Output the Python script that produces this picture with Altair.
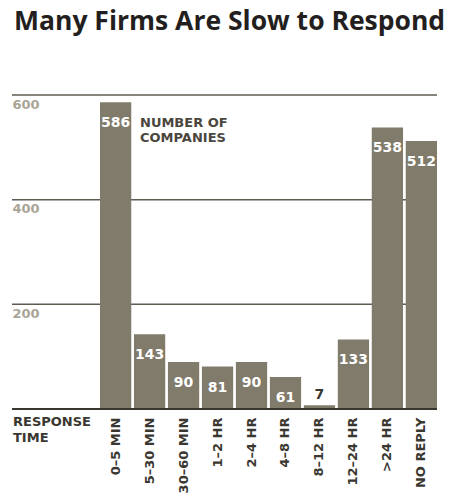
import altair as alt
import pandas as pd

categories = ["0–5 MIN", "5–30 MIN", "30–60 MIN", "1–2 HR", "2–4 HR",
              "4–8 HR", "8–12 HR", "12–24 HR", ">24 HR", "NO REPLY"]
values = [586, 143, 90, 81, 90, 61, 7, 133, 538, 512]
y_ticks = [200, 400, 600]
title_text = ["Many Firms Are Slow to Respond"]
series_label = ["NUMBER OF", "COMPANIES"]
axis_label = ["RESPONSE", "TIME"]

df = pd.DataFrame({"cat": categories, "v": values})
grid_df = pd.DataFrame({"v": y_ticks})

W, H = 425, 314
BAR = "#807b6a"
DARK = "#3a3731"

x = alt.X("cat:N", sort=categories, title=None,
          scale=alt.Scale(range=[88, W], paddingInner=0.08, paddingOuter=0),
          axis=alt.Axis(labelAngle=-90, ticks=False, domain=False, labelPadding=8,
                        labelFont="DejaVu Sans", labelFontWeight="bold",
                        labelFontSize=13, labelColor=DARK, grid=False))
y = alt.Y("v:Q", title=None,
          scale=alt.Scale(domain=[0, 600], nice=False),
          axis=alt.Axis(values=y_ticks, orient="left", domain=False, ticks=False,
                        tickSize=0, labelPadding=0, labelAlign="left",
                        labelBaseline="top", labelOffset=3,
                        labelFont="DejaVu Sans", labelFontSize=13,
                        labelFontWeight="bold", labelColor="#a9a595",
                        grid=False))

grid = alt.Chart(grid_df).mark_rule(color="#5f5b51", strokeWidth=1.5).encode(
    y=alt.Y("v:Q"), x=alt.value(0), x2=alt.value(W))

base = alt.Chart(df)
bars = base.mark_bar(color=BAR).encode(x=x, y=y)

labels_in = base.transform_filter("datum.v >= 20").mark_text(
    baseline="alphabetic", dy=25, color="white", font="DejaVu Sans",
    fontWeight="bold", fontSize=14).encode(x=alt.X("cat:N", sort=categories), y="v:Q", text="v:Q")
labels_out = base.transform_filter("datum.v < 20").mark_text(
    baseline="alphabetic", dy=-6, color=DARK, font="DejaVu Sans",
    fontWeight="bold", fontSize=14).encode(x=alt.X("cat:N", sort=categories), y="v:Q", text="v:Q")

baseline = alt.Chart(pd.DataFrame({"v": [0]})).mark_rule(
    color=DARK, strokeWidth=2).encode(y="v:Q", x=alt.value(0), x2=alt.value(W))

title = alt.Chart(pd.DataFrame({"t": title_text})).mark_text(
    align="left", baseline="alphabetic", font="Open Sans", fontWeight="bold",
    fontSize=26.5, color="#231f20").encode(x=alt.value(2), y=alt.value(-65), text="t:N")

series_txt = alt.Chart(pd.DataFrame({"k": [0]})).mark_text(
    align="left", baseline="alphabetic", font="DejaVu Sans", fontWeight="bold",
    fontSize=13, color="#4a463d", lineHeight=15, text=series_label).encode(
    x=alt.value(128), y=alt.value(32))

axis_txt = alt.Chart(pd.DataFrame({"k": [0]})).mark_text(
    align="left", baseline="alphabetic", font="DejaVu Sans", fontWeight="bold",
    fontSize=13, color=DARK, lineHeight=16, text=axis_label).encode(
    x=alt.value(1), y=alt.value(331))

chart = alt.layer(grid, bars, baseline, labels_in, labels_out, title, series_txt, axis_txt).properties(
    width=W, height=H,
    autosize=alt.AutoSizeParams(type="none"),
    padding={"left": 4, "top": 87, "right": 12, "bottom": 85},
).configure_view(stroke=None)

chart.save("out.html", embed_options={"renderer": "svg", "actions": False})
